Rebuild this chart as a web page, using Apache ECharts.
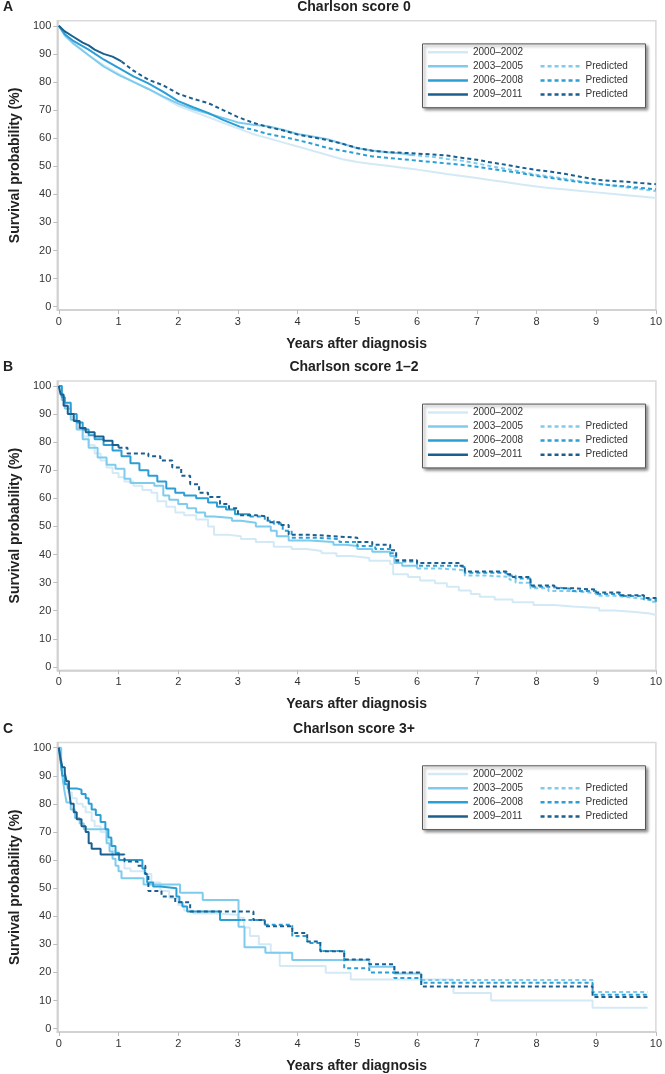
<!DOCTYPE html>
<html><head><meta charset="utf-8">
<script src="https://cdn.jsdelivr.net/npm/echarts@6/dist/echarts.min.js"></script>
<style>html,body{margin:0;padding:0;background:#fff}#c{width:665px;height:1074px}</style>
</head><body><div id="c"></div>
<script>
// ---------- labels ----------
const panelLetters = ['A', 'B', 'C'];
const panelTitles = ['Charlson score 0', 'Charlson score 1\u20132', 'Charlson score 3+'];
const periods = ['2000\u20132002', '2003\u20132005', '2006\u20132008', '2009\u20132011'];
const xTicks = [0, 1, 2, 3, 4, 5, 6, 7, 8, 9, 10];
const yTicks = [0, 10, 20, 30, 40, 50, 60, 70, 80, 90, 100];
const xName = 'Years after diagnosis';
const yName = 'Survival probability (%)';
const predLabel = 'Predicted';

// ---------- Panel A : Charlson 0 ([years, survival %]) ----------
const A_2000 = [[0,100],[0.1,97],[0.25,94],[0.5,89.5],[0.75,86],[1,83],[1.25,80],[1.5,77.5],[1.75,74.5],[2,71.5],[2.25,69.5],[2.5,67.5],[2.75,65.5],[3,63.5],[3.25,61.5],[3.5,60],[3.75,58.5],[4,57],[4.25,55.5],[4.5,54],[4.75,52.5],[5,51.5],[5.25,50.8],[5.5,50.2],[5.75,49.5],[6,48.8],[6.25,48],[6.5,47.2],[6.75,46.5],[7,45.8],[7.25,45],[7.5,44.3],[7.75,43.5],[8,42.8],[8.25,42.2],[8.5,41.7],[8.75,41.2],[9,40.7],[9.25,40.2],[9.5,39.7],[9.75,39.2],[10,38.7]];
const A_2003 = [[0,100],[0.1,96.5],[0.25,93.5],[0.5,89.5],[0.75,85.5],[1,82.5],[1.25,80],[1.5,77.5],[1.75,74.8],[2,72.3],[2.25,70.3],[2.5,68.8],[2.75,67.2],[3,65.6],[3.25,64.8],[3.5,64.2],[3.75,63],[4,61.5],[4.25,60.6],[4.5,59.6],[4.75,58],[5,56.4],[5.25,55.6],[5.5,55],[5.75,54.5],[5.9,54]];
const A_2003p = [[5.9,54],[6.25,53.4],[6.5,52.6],[6.75,52],[7,51],[7.25,50],[7.5,49],[7.75,48],[8,47],[8.25,46.3],[8.5,45.5],[8.75,44.6],[9,43.8],[9.25,43.2],[9.5,42.5],[9.75,41.8],[10,41.2]];
const A_2006 = [[0,100],[0.1,97],[0.25,94.5],[0.5,91.5],[0.75,88],[1,85],[1.25,82],[1.5,79.5],[1.75,76.5],[2,73.2],[2.25,71],[2.5,69],[2.75,66.5],[3.04,64]];
const A_2006p = [[3.04,64],[3.25,63],[3.5,61.5],[3.75,60.5],[4,59.3],[4.25,58],[4.5,56.5],[4.75,55.5],[5,54.5],[5.25,53.5],[5.5,53],[5.75,52.5],[6,52],[6.25,51.5],[6.5,51],[6.75,50.5],[7,49.8],[7.25,49],[7.5,48.3],[7.75,47.5],[8,46.5],[8.25,45.8],[8.5,45],[8.75,44.3],[9,43.8],[9.25,43.2],[9.5,42.8],[9.75,42.3],[10,41.8]];
const A_2009 = [[0,100],[0.1,98],[0.25,96],[0.4,94],[0.5,93],[0.6,91.5],[0.75,90],[0.9,89],[1.05,87.3]];
const A_2009p = [[1.05,87.3],[1.25,84],[1.5,80.8],[1.75,78.8],[2,75.8],[2.25,74],[2.5,72.5],[2.75,70],[3,67.5],[3.25,65.5],[3.5,64],[3.75,62.8],[4,61.3],[4.25,60.3],[4.5,59.3],[4.75,58],[5,56.5],[5.25,55.5],[5.5,55],[5.75,54.8],[6,54.5],[6.25,54.2],[6.5,53.8],[6.75,53],[7,52.3],[7.25,51.3],[7.5,50.5],[7.75,49.5],[8,48.7],[8.25,48],[8.5,47.2],[8.75,46.2],[9,45.2],[9.25,44.8],[9.5,44.5],[9.75,44],[10,43.6]];

// ---------- Panel B : Charlson 1-2 ----------
const B_2000 = [[0,100],[0.05,96],[0.1,93],[0.2,89],[0.3,85],[0.4,82],[0.5,79],[0.6,76],[0.7,73.5],[0.8,71],[0.9,69],[1,67.5],[1.1,66],[1.25,64.5],[1.4,63],[1.55,62],[1.65,59],[1.8,57],[1.95,55],[2.1,54],[2.3,52.5],[2.5,50],[2.6,47],[2.85,46.5],[3.05,45.5],[3.3,44.5],[3.6,42.8],[3.9,42],[4.15,41.3],[4.4,40.5],[4.65,39.5],[4.9,38.8],[5.2,37.8],[5.55,36.5],[5.6,33],[5.85,32],[6.05,30.8],[6.3,29.8],[6.5,28.5],[6.7,27.2],[6.9,26],[7.05,25],[7.3,24],[7.6,23],[7.95,22],[8.3,21.5],[8.6,21],[9.05,20.1],[9.3,19.6],[9.6,19],[9.9,18.5],[10,18.4]];
const B_2003 = [[0,100],[0.05,95],[0.1,92],[0.2,88],[0.3,84.5],[0.4,81],[0.5,78],[0.65,74.5],[0.8,72],[0.95,70.5],[1.1,67],[1.2,65.5],[1.6,64.5],[1.75,61],[1.85,59.5],[2,58],[2.15,56.5],[2.3,55],[2.45,53.5],[2.6,53],[2.9,52],[3.05,51.3],[3.3,50],[3.55,48.5],[3.65,46.5],[3.85,45],[4.2,44.5],[4.6,43.5],[4.8,43],[5,42],[5.25,41],[5.55,39.5],[5.62,37],[5.75,36],[6,35]];
const B_2003p = [[6,35],[6.4,34.5],[6.75,34],[6.8,32.5],[7.2,32],[7.55,31],[7.65,30],[7.9,28],[8.2,27],[8.6,26.3],[9,25.3],[9.3,24.7],[9.6,24],[9.9,23.2],[10,22.6]];
const B_2006 = [[0,100],[0.05,96],[0.1,94],[0.2,90],[0.3,87],[0.4,84.5],[0.5,82.5],[0.6,81],[0.75,79],[0.9,77],[1.05,75],[1.2,72.5],[1.35,70],[1.5,68],[1.65,66],[1.8,63.5],[1.95,62],[2.1,61],[2.3,60],[2.5,58.5],[2.65,57],[2.8,56],[2.95,54.3],[3.2,53.5]];
const B_2006p = [[3.2,53.5],[3.45,52],[3.6,51],[3.75,48.5],[3.9,46],[4.3,45.5],[4.7,44.5],[5,43],[5.3,42],[5.55,40.5],[5.65,37.5],[6,36],[6.7,35.5],[6.8,33.5],[7.5,32.5],[7.65,31.5],[7.9,28.5],[8.2,27.8],[8.6,27],[9,26],[9.4,25.2],[9.8,24],[10,23.2]];
const B_2009 = [[0,100],[0.03,97],[0.08,93],[0.15,90],[0.25,87.5],[0.35,85],[0.45,83.5],[0.6,82],[0.75,80.5],[0.9,79],[1,78]];
const B_2009p = [[1,78],[1.15,76],[1.5,75],[1.7,73.5],[1.9,71],[2.05,68],[2.2,65],[2.35,62],[2.5,60.5],[2.7,58],[2.85,56.5],[3,54],[3.3,53.5],[3.5,51.5],[3.7,50.5],[3.85,47],[4.25,46.5],[4.6,46],[5,44.5],[5.25,43.5],[5.55,41.5],[5.65,38],[6,37],[6.7,36],[6.8,34],[7.5,33],[7.6,32],[7.9,29],[8.3,28],[8.6,27.5],[9,26.5],[9.4,25.5],[9.8,24.5],[10,23.8]];

// ---------- Panel C : Charlson 3+ ----------
const C_2000 = [[0,100],[0.03,96],[0.06,92],[0.1,88],[0.15,84],[0.22,82],[0.3,80],[0.4,79],[0.45,77],[0.55,74],[0.6,72],[0.7,70],[0.8,67],[0.9,63],[1,60],[1.1,57],[1.2,56],[1.45,55],[1.55,52],[1.7,49],[1.85,46.5],[2,44],[2.1,42],[2.25,41],[2.6,40.5],[3,39.5],[3.1,36],[3.2,33],[3.35,30],[3.55,27],[3.7,22.3],[4.47,19.9],[4.89,17.5],[6.61,12.7],[7.24,10],[8.94,7.4],[9.86,7.4]];
const C_2003 = [[0,100],[0.04,94],[0.07,88],[0.1,84],[0.13,80.5],[0.2,78],[0.27,75],[0.35,73],[0.42,71],[0.8,66],[0.85,63],[0.9,60.5],[0.95,58],[1,56],[1.05,53.5],[1.42,51.3],[2.03,48.4],[2.41,45.8],[3.01,36.3],[3.11,29],[3.46,27],[3.91,24.4],[5.2,22],[5.62,19.6],[6.07,17.3]];
const C_2003p = [[6.07,17.3],[8.94,13],[9.86,13]];
const C_2006 = [[0,100],[0.03,95],[0.06,90],[0.1,87],[0.15,85.5],[0.3,85],[0.38,83.5],[0.45,82],[0.5,80],[0.55,78],[0.62,76],[0.7,73.5],[0.78,71],[0.83,68],[0.88,65],[0.95,62.5],[1.01,60],[1.4,57],[1.44,55],[1.48,52],[1.58,50.6],[1.7,50],[1.97,47],[2.02,45],[2.07,43.5],[2.15,41.7],[2.7,38.7],[3.06,38.7]];
const C_2006p = [[3.06,38.7],[3.45,37],[3.91,33],[4.16,30.5],[4.38,27.6],[4.78,21.5],[5.2,20],[5.62,18],[6.07,16.3],[8.94,12.1],[9.86,12.1]];
const C_2009 = [[0,100],[0.03,96],[0.06,93],[0.1,91],[0.13,88],[0.17,85],[0.2,80],[0.25,77],[0.3,74.5],[0.38,72],[0.45,70],[0.5,66],[0.55,64],[0.7,62],[1.04,62]];
const C_2009p = [[1.04,62],[1.1,59.5],[1.32,58],[1.45,55],[1.5,49],[1.72,47],[1.95,45],[2.2,41.7],[3.26,38.7],[3.45,36.4],[3.91,34],[4.16,31],[4.38,27.5],[4.78,24.6],[5.2,22.9],[5.62,20],[6.07,15],[8.94,11.3],[9.86,11.3]];

// ---------- styling ----------
const FONT = "'Liberation Sans', Arial, Helvetica, sans-serif";
const COLORS = ['#d3eaf6', '#7ecbee', '#2b9ed6', '#1b5f8e'];
const gridTops = [20.7, 380.9, 742.6];
const gridH = 289.4;
const gridLeft = 46.7, gridW = 611.6;

const panels = [
  {obs: [A_2000, A_2003, A_2006, A_2009], pred: [A_2003p, A_2006p, A_2009p], step: false},
  {obs: [B_2000, B_2003, B_2006, B_2009], pred: [B_2003p, B_2006p, B_2009p], step: 'end'},
  {obs: [C_2000, C_2003, C_2006, C_2009], pred: [C_2003p, C_2006p, C_2009p], step: 'end'}
];

const grids = [], xAxes = [], yAxes = [], series = [], legends = [], graphics = [];
panels.forEach((p, gi) => {
  const gt = gridTops[gi];
  grids.push({left: gridLeft, width: gridW, top: gt, height: gridH, show: true,
    borderColor: '#dadada', borderWidth: 1.5, backgroundColor: 'transparent'});
  xAxes.push({type: 'value', gridIndex: gi, min: -0.026, max: 10,
    axisLine: {show: true, onZero: false, lineStyle: {color: '#cdcdcd', width: 1.5}},
    axisTick: {show: true, length: 4, customValues: xTicks, lineStyle: {color: '#bdbdbd'}},
    axisLabel: {customValues: xTicks, margin: 6, fontSize: 11, color: '#333', fontFamily: FONT},
    splitLine: {show: false},
    name: xName, nameLocation: 'middle', nameGap: 27,
    nameTextStyle: {fontWeight: 'bold', fontSize: 14, color: '#222', fontFamily: FONT}});
  yAxes.push({type: 'value', gridIndex: gi, min: -1.2, max: 101.8,
    axisLine: {show: true, onZero: false, lineStyle: {color: '#cdcdcd', width: 1.5}},
    axisTick: {show: true, length: 4, customValues: yTicks, lineStyle: {color: '#bdbdbd'}},
    axisLabel: {customValues: yTicks, margin: 6, fontSize: 11, color: '#333', fontFamily: FONT},
    splitLine: {show: false},
    name: yName, nameLocation: 'middle', nameGap: 35, nameRotate: 90,
    nameTextStyle: {fontWeight: 'bold', fontSize: 14, color: '#222', fontFamily: FONT}});
  p.obs.forEach((d, k) => {
    series.push({type: 'line', name: periods[k], data: d, xAxisIndex: gi, yAxisIndex: gi,
      symbol: 'none', step: p.step, silent: true, z: 2 + k * 0.1,
      lineStyle: {color: COLORS[k], width: 2}, itemStyle: {color: COLORS[k]}});
  });
  p.pred.forEach((d, k) => {
    series.push({type: 'line', name: predLabel + ' ' + periods[k + 1], data: d, xAxisIndex: gi, yAxisIndex: gi,
      symbol: 'none', step: p.step, silent: true, z: 2.5 + k * 0.1,
      lineStyle: {color: COLORS[k + 1], width: 2, type: [4, 3]}, itemStyle: {color: COLORS[k + 1]}});
  });
  // legend frame
  graphics.push({type: 'rect', z: 3, shape: {x: 422.5, y: gt + 23.2, width: 223, height: 63.8},
    style: {fill: '#fff', stroke: '#555', lineWidth: 1, shadowBlur: 3, shadowOffsetX: 2, shadowOffsetY: 2, shadowColor: 'rgba(0,0,0,0.45)'}});
  const lg = {orient: 'vertical', itemWidth: 40, itemHeight: 10, itemGap: 4.1, padding: 0, z: 5,
    selectedMode: false, itemStyle: {opacity: 0}, lineStyle: {width: 2.5},
    textStyle: {fontSize: 10, color: '#333', fontFamily: FONT}};
  legends.push(Object.assign({}, lg, {left: 426.7, top: gt + 26.5, data: periods.slice()}));
  legends.push(Object.assign({}, lg, {left: 539.3, top: gt + 40.6,
    data: periods.slice(1).map(s => predLabel + ' ' + s), formatter: () => predLabel}));
  // panel letter and title
  graphics.push({type: 'text', x: 3, y: gt - 13.5, z: 5,
    style: {text: panelLetters[gi], font: 'bold 14px ' + FONT, fill: '#222', align: 'left', verticalAlign: 'middle'}});
  graphics.push({type: 'text', x: 354, y: gt - 13.5, z: 5,
    style: {text: panelTitles[gi], font: 'bold 14px ' + FONT, fill: '#222', align: 'center', verticalAlign: 'middle'}});
});

const chart = echarts.init(document.getElementById('c'), null, {renderer: 'canvas'});
chart.setOption({
  animation: false,
  backgroundColor: '#fff',
  grid: grids, xAxis: xAxes, yAxis: yAxes,
  legend: legends, series: series, graphic: graphics
});
</script></body></html>
